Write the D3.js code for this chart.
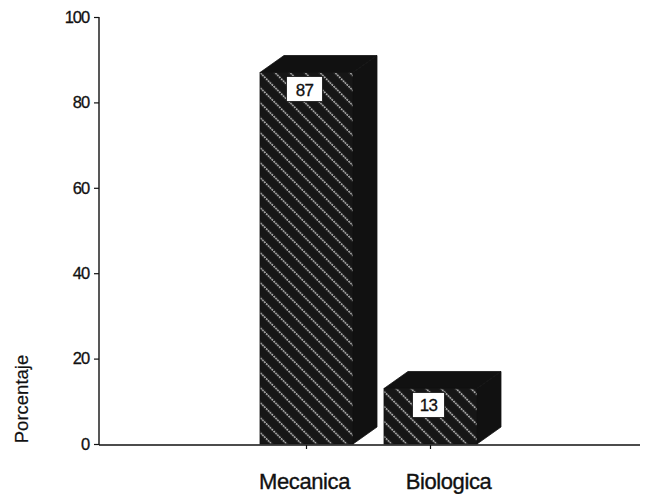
<!DOCTYPE html>
<html>
<head>
<meta charset="utf-8">
<script src="https://cdn.jsdelivr.net/npm/d3@7"></script>
<style>
  html, body { margin: 0; padding: 0; background: #fff; }
  svg { display: block; }
  text { font-family: "Liberation Sans", Arial, sans-serif; fill: #111; }
</style>
</head>
<body>
<svg id="chart" width="652" height="494"></svg>
<script>
// Chart data
const categories = ["Mecanica", "Biologica"];
const values = [87, 13];
const yTicks = [0, 20, 40, 60, 80, 100];
const yLabel = "Porcentaje";

const svg = d3.select("#chart");

// Plot frame
const axisX = 99, axisRight = 640;
const y = d3.scaleLinear().domain([0, 100]).range([444, 17]);
const x = d3.scaleBand().domain(categories)
  .range([244.5, 492.5]).paddingInner(0.25).paddingOuter(0.125);

// 3D depth offset of the bars
const dx = 24, dy = -17;

// Diagonal dotted-white hatch on black, running top-left to bottom-right
const defs = svg.append("defs");
const sp = 10.6;
const pat = defs.append("pattern")
  .attr("id", "hatch").attr("patternUnits", "userSpaceOnUse")
  .attr("width", sp).attr("height", sp)
  .attr("patternTransform", "rotate(-45)");
pat.append("rect").attr("width", sp).attr("height", sp).attr("fill", "#161616");
pat.append("line").attr("x1", sp / 2).attr("y1", 0).attr("x2", sp / 2).attr("y2", sp)
  .attr("stroke", "#f4f4f4").attr("stroke-width", 1.4)
  .attr("stroke-dasharray", "1.6,1.05");

// Bars
const bars = svg.append("g").selectAll("g").data(categories).join("g");
bars.each(function(c, i) {
  const g = d3.select(this);
  const x0 = x(c), x1 = x(c) + x.bandwidth();
  const yt = y(values[i]), yb = y(0);
  // side face
  g.append("path")
    .attr("d", `M${x1},${yt} L${x1 + dx},${yt + dy} L${x1 + dx},${yb + dy} L${x1},${yb} Z`)
    .attr("fill", "#111").attr("stroke", "#111").attr("stroke-width", 0.8);
  // top face
  g.append("path")
    .attr("d", `M${x0},${yt} L${x0 + dx},${yt + dy} L${x1 + dx},${yt + dy} L${x1},${yt} Z`)
    .attr("fill", "#111").attr("stroke", "#111").attr("stroke-width", 0.8);
  // front face
  g.append("rect")
    .attr("x", x0).attr("y", yt).attr("width", x.bandwidth()).attr("height", yb - yt)
    .attr("fill", "url(#hatch)").attr("stroke", "#111").attr("stroke-width", 0.8);
  // value label
  const cx = x0 + x.bandwidth() / 2 - 2;
  const bw = i === 0 ? 36 : 32;
  g.append("rect")
    .attr("x", cx - bw / 2).attr("y", yt + 4).attr("width", bw).attr("height", 25)
    .attr("fill", "#fff").attr("stroke", "#111").attr("stroke-width", 0.8);
  g.append("text")
    .attr("x", cx).attr("y", yt + 23)
    .attr("text-anchor", "middle").attr("font-size", 17)
    .attr("letter-spacing", -0.6)
    .attr("stroke", "#111").attr("stroke-width", 0.3)
    .text(values[i]);
});

// Y axis
const yAxis = svg.append("g").attr("transform", `translate(${axisX},0)`)
  .call(d3.axisLeft(y).tickValues(yTicks).tickSize(5).tickSizeOuter(0));
yAxis.select(".domain").attr("stroke", "#111").attr("stroke-width", 1.4)
  .attr("d", `M0,${y(100)}V${y(0) + 1}`);
yAxis.selectAll(".tick line").attr("stroke", "#111").attr("stroke-width", 1.2);
yAxis.selectAll(".tick text")
  .attr("font-size", 16.5).attr("font-family", "Liberation Sans, Arial, sans-serif")
  .attr("fill", "#111").attr("x", -10).attr("letter-spacing", -1.1)
  .attr("stroke", "#111").attr("stroke-width", 0.3);

// X axis
const xAxis = svg.append("g").attr("transform", `translate(0,${y(0) + 1})`)
  .call(d3.axisBottom(x).tickSize(4).tickSizeOuter(0));
xAxis.select(".domain").attr("stroke", "#111").attr("stroke-width", 1.4)
  .attr("d", `M${axisX},0H${axisRight}`);
xAxis.selectAll(".tick line").attr("stroke", "#111").attr("stroke-width", 1.2);
xAxis.selectAll(".tick text")
  .attr("font-size", 22).attr("font-family", "Liberation Sans, Arial, sans-serif")
  .attr("fill", "#111").attr("y", 44).attr("dy", 0).attr("letter-spacing", -0.4)
  .attr("stroke", "#111").attr("stroke-width", 0.35)
  .attr("dx", (d, i) => i === 0 ? -2 : 18);

// Y axis title
svg.append("text")
  .attr("transform", "translate(28,399) rotate(-90)")
  .attr("text-anchor", "middle").attr("font-size", 18.5)
  .attr("stroke", "#111").attr("stroke-width", 0.2)
  .text(yLabel);
</script>
</body>
</html>
